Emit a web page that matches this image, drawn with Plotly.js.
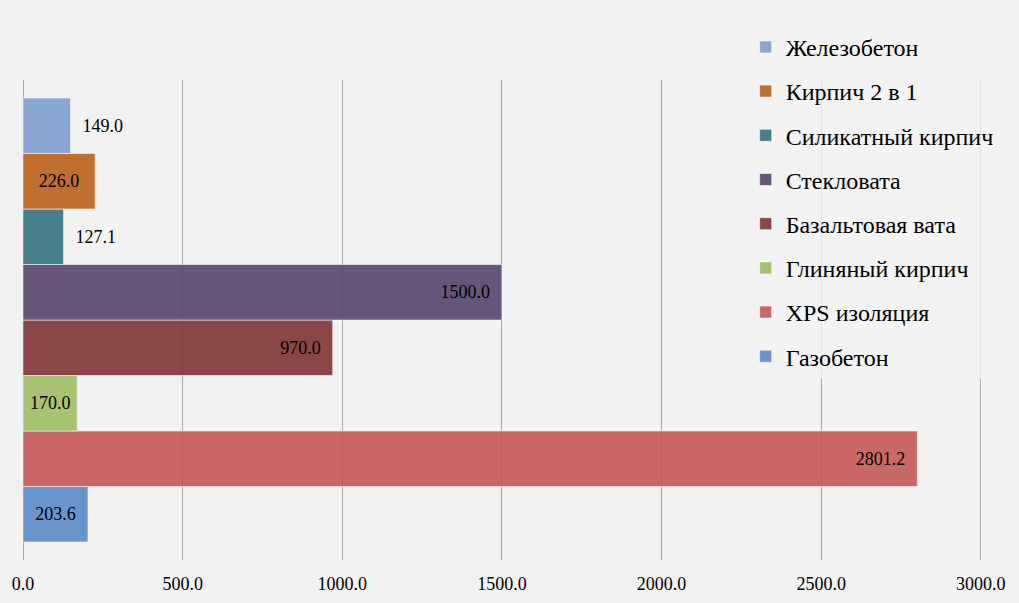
<!DOCTYPE html>
<html>
<head>
<meta charset="utf-8">
<script src="https://cdn.plot.ly/plotly-3.0.1.min.js"></script>
<style>
  html, body { margin: 0; padding: 0; background: #f2f2f2; }
  #chart { width: 1019px; height: 603px; }
</style>
</head>
<body>
<div id="chart"></div>
<script>
// materials from bottom bar to top bar
const materials = ['Газобетон', 'XPS изоляция', 'Глиняный кирпич', 'Базальтовая вата',
                   'Стекловата', 'Силикатный кирпич', 'Кирпич 2 в 1', 'Железобетон'];
const values = [203.6, 2801.2, 170.0, 970.0, 1500.0, 127.1, 226.0, 149.0];
const colors = ['rgba(90,139,197,0.9)', 'rgba(196,89,88,0.9)', 'rgba(158,188,98,0.9)',
                'rgba(128,51,53,0.9)', 'rgba(86,70,109,0.9)', 'rgba(51,113,129,0.9)',
                'rgba(186,97,24,0.9)', 'rgba(125,159,205,0.9)'];

const serif = '"Liberation Serif", "Times New Roman", "DejaVu Serif", serif';
const pad = '\u00a0\u00a0';

const data = materials.map((name, i) => {
    const v = values[i];
    let pos = 'inside', anchor = 'end', tmpl = '%{x:.1f}' + pad;
    if (v < 160) { pos = 'outside'; tmpl = pad + '%{x:.1f}'; }
    else if (v < 250) { anchor = 'middle'; tmpl = '%{x:.1f}'; }
    return {
        type: 'bar',
        orientation: 'h',
        name: name,
        x: [v],
        y: ['Материалы'],
        marker: {
            color: colors[i],
            line: { color: 'rgba(255,255,255,0.55)', width: 1 }
        },
        texttemplate: tmpl,
        textposition: pos,
        insidetextanchor: anchor,
        cliponaxis: false,
        textfont: { family: serif, size: 18, color: '#000000' },
        legendgroup: 'g' + i,
        legendrank: 1000 - i,
        hoverinfo: 'x+name'
    };
});

const layout = {
    width: 1019,
    height: 603,
    paper_bgcolor: '#f2f2f2',
    plot_bgcolor: '#f2f2f2',
    font: { family: serif, color: '#000000' },
    margin: { l: 23, r: 35, t: 80, b: 43 },
    barmode: 'group',
    bargap: 0.075,
    bargroupgap: 0,
    showlegend: true,
    xaxis: {
        range: [0, 3010],
        tickvals: [0, 500, 1000, 1500, 2000, 2500, 3000],
        tickformat: '.1f',
        showgrid: true,
        gridcolor: '#a8a8a8',
        gridwidth: 1,
        zeroline: true,
        zerolinecolor: '#a8a8a8',
        zerolinewidth: 1,
        showline: false,
        ticks: '',
        ticklabelstandoff: 11,
        tickfont: { family: serif, size: 18, color: '#000000' },
        fixedrange: true
    },
    yaxis: {
        showticklabels: false,
        showgrid: false,
        zeroline: false,
        showline: false,
        ticks: '',
        fixedrange: true
    },
    legend: {
        x: 0.752,
        xanchor: 'left',
        y: 1.115,
        yanchor: 'top',
        traceorder: 'grouped',
        tracegroupgap: 10,
        maxheight: 560,
        bgcolor: 'rgba(242,242,242,0.8)',
        font: { family: serif, size: 24, color: '#000000' }
    }
};

Plotly.newPlot('chart', data, layout, { displayModeBar: false, staticPlot: true });
</script>
</body>
</html>
